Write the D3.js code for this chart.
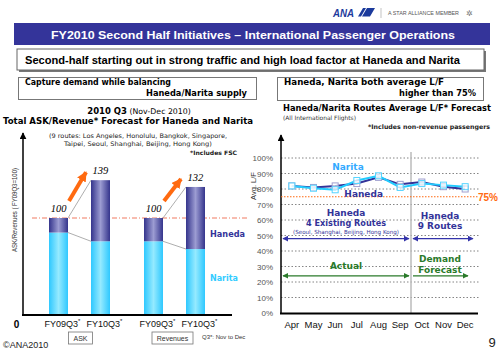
<!DOCTYPE html>
<html><head><meta charset="utf-8">
<script src="https://cdn.jsdelivr.net/npm/d3@7"></script>
<style>
body{margin:0;background:#fff}
svg{display:block}
text{font-family:"Liberation Sans",Arial,sans-serif}
</style>
</head><body>
<svg id="c" width="500" height="353"></svg>
<script>
// ---------- DATA ----------
const barGroups = ["ASK", "Revenues"];
const barPeriods = ["FY09Q3", "FY10Q3"];
const askNarita = [85, 76];
const askHaneda = [15, 63];
const revNarita = [76, 68];
const revHaneda = [24, 64];
const barTotals = [[100, 139], [100, 132]];

const months = ["Apr","May","Jun","Jul","Aug","Sep","Oct","Nov","Dec"];
const lfNarita = [82, 80.5, 79.5, 85.5, 88.5, 81, 83.5, 82.5, 81.5];
const lfHaneda = [82, 81, 82, 83.5, 87.5, 83, 84.5, 81.5, 80];
const lfTicks = [0,10,20,30,40,50,60,70,80,90,100];

// ---------- SETUP ----------
const svg = d3.select("#c");
const defs = svg.append("defs");
function hgrad(id, edge, mid){
  const g = defs.append("linearGradient").attr("id", id).attr("x1","0").attr("x2","1").attr("y1","0").attr("y2","0");
  g.append("stop").attr("offset","0%").attr("stop-color", edge);
  g.append("stop").attr("offset","50%").attr("stop-color", mid);
  g.append("stop").attr("offset","100%").attr("stop-color", edge);
}
hgrad("gHan", "#34348c", "#9c9cd2");
hgrad("gNar", "#2ec8ff", "#95eaff");
function marker(id, color, size, orient){
  defs.append("marker").attr("id", id).attr("viewBox","0 0 10 10").attr("refX",9).attr("refY",5)
    .attr("markerWidth", size).attr("markerHeight", size).attr("markerUnits","userSpaceOnUse")
    .attr("orient", orient || "auto-start-reverse")
    .append("path").attr("d","M0,0 L10,5 L0,10 Z").attr("fill", color);
}
marker("aNavy", "#3333aa", 6);
marker("aGreen", "#2a7a2a", 6);
marker("aBlack", "#000", 7);
marker("aOrange", "#ff6a10", 10);

function T(x, y, s, o){
  o = o || {};
  const t = svg.append("text").attr("x", x).attr("y", y).text(s)
    .attr("font-size", o.size || 9)
    .attr("font-weight", o.bold ? "bold" : "normal")
    .attr("fill", o.fill || "#000")
    .attr("text-anchor", o.anchor || "start");
  if (o.family) t.style("font-family", o.family);
  if (o.italic) t.attr("font-style", "italic");
  if (o.len) t.attr("textLength", o.len).attr("lengthAdjust", "spacingAndGlyphs");
  return t;
}
const VERD = '"DejaVu Sans", Verdana, sans-serif';

// ---------- HEADER ----------
T(333, 16.5, "ANA", {size: 11, bold: true, italic: true, fill: "#1b3a9c", len: 21});
svg.append("path").attr("d","M358,16.5 L363,8 L366,8 L361,16.5 Z M362,16.5 L367,8 L375,8 L370,16.5 Z").attr("fill","#1b3a9c");
svg.append("line").attr("x1",381).attr("x2",381).attr("y1",8).attr("y2",18).attr("stroke","#aaa").attr("stroke-width",0.7);
T(388, 15, "A STAR ALLIANCE MEMBER", {size: 5.2, fill: "#555", len: 71});
T(469, 16, "✲", {size: 8, fill: "#777", anchor: "middle"});

svg.append("rect").attr("x",14).attr("y",23).attr("width",476).attr("height",22).attr("fill","#34349a");
T(253, 38.5, "FY2010 Second Half Initiatives – International Passenger Operations", {size: 11.5, bold: true, fill: "#fff", anchor: "middle", len: 404});

svg.append("rect").attr("x",19).attr("y",51).attr("width",467).attr("height",21).attr("fill","#777");
svg.append("rect").attr("x",17).attr("y",49).attr("width",467).attr("height",21).attr("fill","#fff").attr("stroke","#666").attr("stroke-width",1);
T(25, 64, "Second-half starting out in strong traffic and high load factor at Haneda and Narita", {size: 10.5, bold: true, len: 435});

svg.append("rect").attr("x",18.5).attr("y",77.5).attr("width",238).attr("height",22).attr("fill","#fff").attr("stroke","#777");
T(25, 85, "Capture demand while balancing", {size: 8.5, bold: true, family: VERD, len: 146});
T(247, 96, "Haneda/Narita supply", {size: 8.5, bold: true, family: VERD, anchor: "end", len: 101});

svg.append("rect").attr("x",277.5).attr("y",77.5).attr("width",206).attr("height",23).attr("fill","#fff").attr("stroke","#777");
T(284, 85, "Haneda, Narita both average L/F", {size: 8.5, bold: true, family: VERD, len: 160});
T(476, 96, "higher than 75%", {size: 8.5, bold: true, family: VERD, anchor: "end", len: 77});

// ---------- LEFT CHART TITLES ----------
const t1 = T(139, 114, "", {size: 8.5, anchor: "middle", family: VERD});
t1.append("tspan").attr("font-weight","bold").text("2010 Q3");
t1.append("tspan").attr("font-size", 7.8).text(" (Nov-Dec 2010)");
T(3, 124, "Total ASK/Revenue* Forecast for Haneda and Narita", {size: 8.5, bold: true, family: VERD, len: 250});
T(138, 138, "(9 routes: Los Angeles, Honolulu, Bangkok, Singapore,", {size: 6.2, family: VERD, anchor: "middle", fill: "#222", len: 178});
T(138, 146, "Taipei, Seoul, Shanghai, Beijing, Hong Kong)", {size: 6.2, family: VERD, anchor: "middle", fill: "#222", len: 148});
T(237, 155, "*Includes FSC", {size: 6, bold: true, family: VERD, anchor: "end", fill: "#222", len: 47});

// ---------- LEFT BAR CHART ----------
const yBar = d3.scaleLinear().domain([0, 100]).range([315, 218]);
const xGroup = d3.scaleBand().domain(barGroups).range([32, 222]).padding(0);
const xPeriod = d3.scaleBand().domain(barPeriods).range([0, xGroup.bandwidth()]).paddingInner(0.548).paddingOuter(0.405);
const bw = xPeriod.bandwidth();

const barData = [];
barGroups.forEach((g, gi) => {
  const nar = gi === 0 ? askNarita : revNarita;
  const han = gi === 0 ? askHaneda : revHaneda;
  barPeriods.forEach((p, pi) => {
    barData.push({g, p, gi, pi, nar: nar[pi], han: han[pi], total: barTotals[gi][pi],
      x: xGroup(g) + xPeriod(p)});
  });
});

// reference dashed line at 100
svg.append("line").attr("x1", 32).attr("x2", 248).attr("y1", yBar(100)).attr("y2", yBar(100))
  .attr("stroke", "#f07a60").attr("stroke-width", 1).attr("stroke-dasharray", "5,2,1,2");

// connector lines
barGroups.forEach((g, gi) => {
  const a = barData[gi*2], b = barData[gi*2+1];
  [[a.nar + a.han, b.nar + b.han], [a.nar, b.nar]].forEach(([v1, v2]) => {
    svg.append("line").attr("x1", a.x + bw).attr("y1", yBar(v1)).attr("x2", b.x).attr("y2", yBar(v2))
      .attr("stroke", "#999").attr("stroke-width", 0.8);
  });
});

const bars = svg.append("g").selectAll("g").data(barData).join("g");
bars.append("rect").attr("x", d => d.x).attr("width", bw)
  .attr("y", d => yBar(d.nar)).attr("height", d => yBar(0) - yBar(d.nar)).attr("fill", "url(#gNar)");
bars.append("rect").attr("x", d => d.x).attr("width", bw)
  .attr("y", d => yBar(d.nar + d.han)).attr("height", d => yBar(d.nar) - yBar(d.nar + d.han)).attr("fill", "url(#gHan)");
bars.append("text").attr("x", d => d.x + bw/2).attr("y", d => yBar(d.total) - 6)
  .attr("text-anchor", "middle").attr("font-size", 10.5).attr("font-style", "italic")
  .style("font-family", '"Liberation Serif", "Times New Roman", serif').text(d => d.total);

// orange growth arrows
barGroups.forEach((g, gi) => {
  const a = barData[gi*2], b = barData[gi*2+1];
  svg.append("line").attr("x1", a.x + bw + 1).attr("y1", yBar(a.total) - 17)
    .attr("x2", b.x - 5).attr("y2", yBar(b.total) - 8)
    .attr("stroke", "#ff6a10").attr("stroke-width", 4).attr("marker-end", "url(#aOrange)");
});

// axes
svg.append("line").attr("x1", 23).attr("x2", 23).attr("y1", 316).attr("y2", 133)
  .attr("stroke", "#000").attr("stroke-width", 1.5).attr("marker-end", "url(#aBlack)");
svg.append("line").attr("x1", 22).attr("x2", 232).attr("y1", 315).attr("y2", 315)
  .attr("stroke", "#000").attr("stroke-width", 2);
T(16.5, 328, "0", {size: 10, bold: true, anchor: "middle"});
svg.append("text").attr("transform", "translate(16.5,210) rotate(-90)").attr("text-anchor", "middle")
  .attr("font-size", 7.5).attr("fill", "#333").attr("textLength", 84).attr("lengthAdjust","spacingAndGlyphs")
  .text("ASK/Revenues ( FY09Q3=100)");

barData.forEach(d => {
  const t = T(d.x + bw/2 + 4, 327, "", {size: 9, anchor: "middle", fill: "#111"});
  t.append("tspan").text(d.p);
  t.append("tspan").attr("dy", -4).attr("font-size", 6).text("*");
});
// group boxes
barGroups.forEach((g, gi) => {
  const w = gi === 0 ? 24 : 41;
  const cx = gi === 0 ? 80.5 : 172.5;
  svg.append("rect").attr("x", cx - w/2).attr("y", 332).attr("width", w).attr("height", 12)
    .attr("fill", "#fff").attr("stroke", "#777").attr("stroke-width", 0.8);
  T(cx, 341, g, {size: 7, anchor: "middle", fill: "#333"});
});
T(202, 339, "Q3*: Nov to Dec", {size: 6, fill: "#333"});

T(210, 237, "Haneda", {size: 9.5, bold: true, fill: "#333399", family: VERD, len: 35});
T(210, 281, "Narita", {size: 9.5, bold: true, fill: "#33ccff", family: VERD, len: 28});

// ---------- RIGHT CHART ----------
T(283, 110.5, "Haneda/Narita Routes Average L/F* Forecast", {size: 8.5, bold: true, family: VERD, len: 208});
T(283, 120, "(All International Flights)", {size: 6, family: VERD, fill: "#333", len: 73});
T(490, 129, "*Includes non-revenue passengers", {size: 6.3, bold: true, family: VERD, anchor: "end", fill: "#222", len: 122});

const xLF = d3.scaleBand().domain(months).range([281, 476]).padding(0);
const yLF = d3.scaleLinear().domain([0, 100]).range([313, 158]);

// grid
svg.append("g").selectAll("line").data(lfTicks.filter(t => t > 0)).join("line")
  .attr("x1", 281).attr("x2", 479).attr("y1", d => yLF(d)).attr("y2", d => yLF(d))
  .attr("stroke", "#666").attr("stroke-width", 0.8).attr("stroke-dasharray", "1.5,2");

// vertical divider
const divX = xLF("Sep") + xLF.bandwidth();
svg.append("line").attr("x1", divX).attr("x2", divX).attr("y1", 152).attr("y2", 313)
  .attr("stroke", "#bbb").attr("stroke-width", 1.5);

// y axis
const yAx = svg.append("g").attr("transform", "translate(281,0)")
  .call(d3.axisLeft(yLF).tickValues(lfTicks).tickFormat(d => d + "%").tickSize(0).tickPadding(8));
yAx.select(".domain").remove();
yAx.selectAll("text").attr("font-size", 8).attr("fill", "#555").style("font-family", '"Liberation Sans", Arial, sans-serif');
svg.append("line").attr("x1", 281).attr("x2", 281).attr("y1", 314).attr("y2", 135)
  .attr("stroke", "#000").attr("stroke-width", 1.5).attr("marker-end", "url(#aBlack)");
svg.append("text").attr("transform", "translate(256,186) rotate(-90)").attr("text-anchor", "middle")
  .attr("font-size", 7.5).attr("fill", "#333").text("Avg. L/F");

// x axis
const xAx = svg.append("g").attr("transform", "translate(0,313)")
  .call(d3.axisBottom(xLF).tickSize(0).tickPadding(8));
xAx.select(".domain").remove();
xAx.selectAll("text").attr("font-size", 9.5).attr("fill", "#111").style("font-family", '"Liberation Sans", Arial, sans-serif');
svg.append("line").attr("x1", 280).attr("x2", 478).attr("y1", 313.5).attr("y2", 313.5)
  .attr("stroke", "#000").attr("stroke-width", 2);

// 75% line
svg.append("line").attr("x1", 281).attr("x2", 479).attr("y1", yLF(75)).attr("y2", yLF(75))
  .attr("stroke", "#ff6a10").attr("stroke-width", 1.2).attr("stroke-dasharray", "1.5,1.5");
T(498, yLF(75) + 4, "75%", {size: 10, bold: true, fill: "#ff6a10", anchor: "end"});

// lines
const lineGen = d3.line().x((d, i) => xLF(months[i]) + xLF.bandwidth()/2).y(d => yLF(d));
svg.append("path").datum(lfHaneda).attr("d", lineGen).attr("fill", "none").attr("stroke", "#333399").attr("stroke-width", 2);
svg.append("path").datum(lfNarita).attr("d", lineGen).attr("fill", "none").attr("stroke", "#22ccff").attr("stroke-width", 2);
[[lfHaneda, "#9f9fd0"], [lfNarita, "#55d4ff"]].forEach(([arr, c]) => {
  svg.append("g").selectAll("rect").data(arr).join("rect")
    .attr("x", (d, i) => xLF(months[i]) + xLF.bandwidth()/2 - 3).attr("y", d => yLF(d) - 3)
    .attr("width", 6).attr("height", 6).attr("fill", "#fff").attr("fill-opacity", 0.6)
    .attr("stroke", c).attr("stroke-width", 1);
});
T(xLF("Jul") + 2, 170, "Narita", {size: 9, bold: true, fill: "#33aaff", family: VERD, anchor: "middle"});
T(xLF("Aug") - 4, 196.5, "Haneda", {size: 9, bold: true, fill: "#333399", family: VERD, anchor: "middle"});

// period annotations
const leftMid = (281 + divX) / 2, rightMid = 440;
T(leftMid, 216, "Haneda", {size: 9, bold: true, fill: "#333399", family: VERD, anchor: "middle"});
T(leftMid, 226, "4 Existing Routes", {size: 9, bold: true, fill: "#333399", family: VERD, anchor: "middle", len: 80});
T(leftMid, 233.5, "(Seoul, Shanghai, Beijing, Hong Kong)", {size: 5.6, fill: "#333399", family: VERD, anchor: "middle", len: 106});
T(rightMid, 219, "Haneda", {size: 9, bold: true, fill: "#333399", family: VERD, anchor: "middle"});
T(rightMid, 229, "9 Routes", {size: 9, bold: true, fill: "#333399", family: VERD, anchor: "middle"});
T(leftMid, 268.5, "Actual", {size: 9, bold: true, fill: "#2a7a2a", family: VERD, anchor: "middle"});
T(rightMid, 261.5, "Demand", {size: 9, bold: true, fill: "#2a7a2a", family: VERD, anchor: "middle"});
T(rightMid, 272.5, "Forecast", {size: 9, bold: true, fill: "#2a7a2a", family: VERD, anchor: "middle"});

function arrow(x1, x2, y, m, both, color){
  const l = svg.append("line").attr("x1", x1).attr("x2", x2).attr("y1", y).attr("y2", y)
    .attr("stroke", color).attr("stroke-width", 1.3).attr("marker-end", `url(#${m})`);
  if (both) l.attr("marker-start", `url(#${m})`);
}
arrow(283, divX - 2, yLF(48), "aNavy", true, "#3333aa");
arrow(divX + 2, 473, yLF(48), "aNavy", true, "#3333aa");
arrow(283, divX - 2, yLF(24), "aGreen", true, "#2a7a2a");
arrow(divX + 2, 468, yLF(24), "aGreen", false, "#2a7a2a");

// footer
T(3, 348, "©ANA2010", {size: 9, fill: "#222"});
T(492, 347, "9", {size: 13, anchor: "middle", fill: "#222"});
</script>
</body></html>
